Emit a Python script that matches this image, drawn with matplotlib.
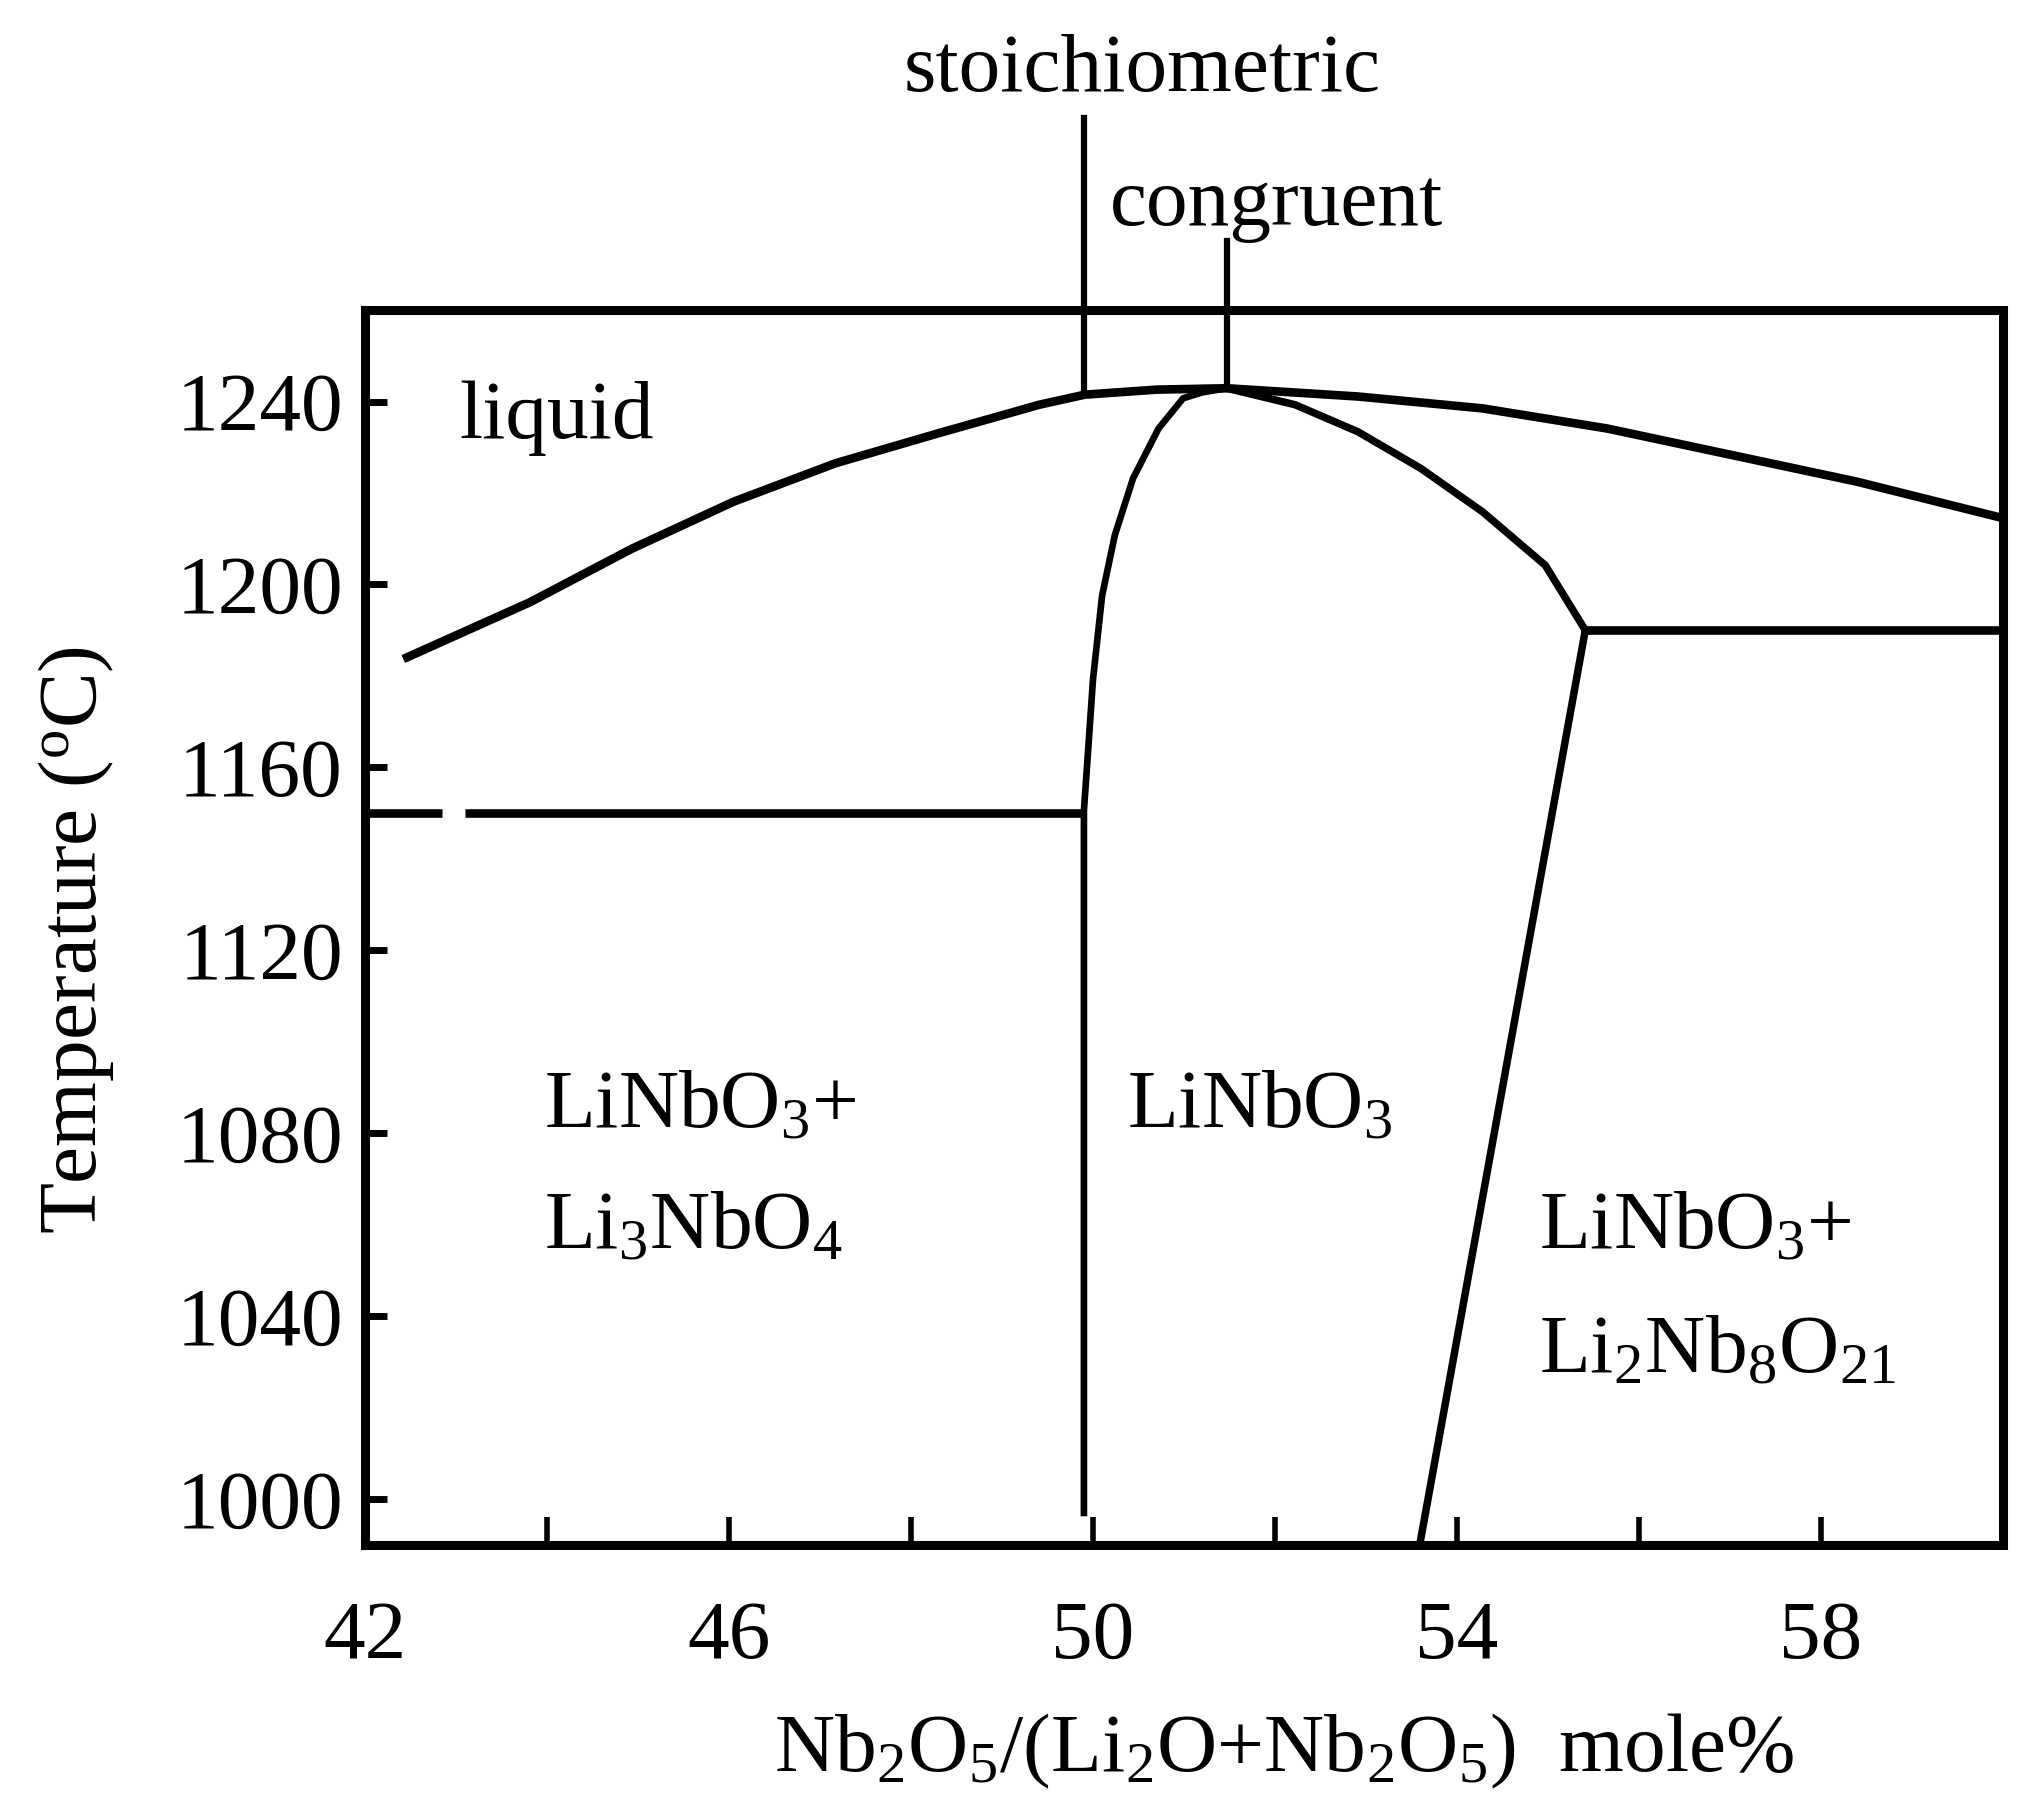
import matplotlib
matplotlib.use("Agg")
import matplotlib.pyplot as plt

plt.rcParams['font.family'] = ['Liberation Serif', 'DejaVu Serif']
plt.rcParams['mathtext.fontset'] = 'custom'
plt.rcParams['mathtext.rm'] = 'Liberation Serif'
plt.rcParams['mathtext.it'] = 'Liberation Serif:italic'

# phase boundaries: x = Nb2O5 mole%, y = temperature (C)
liq_x = [42.42, 43.81, 44.93, 46.05, 47.17, 48.29, 49.41, 49.91, 50.7, 51.47,
         52.91, 54.28, 55.65, 57.02, 58.39, 60.0]
liq_y = [1183.7, 1196.1, 1207.8, 1218.1, 1226.5, 1233.0, 1239.3, 1241.5, 1242.6, 1242.9,
         1241.1, 1238.5, 1234.1, 1228.3, 1222.5, 1214.5]

sol_left_x = [51.47, 51.2, 50.99, 50.72, 50.44, 50.24, 50.1, 50.0, 49.94, 49.9, 49.9]
sol_left_y = [1242.9, 1242.0, 1240.7, 1234.1, 1223.2, 1210.8, 1197.6, 1179.3,
              1162.0, 1150.6, 997.0]

sol_right_x = [51.47, 52.22, 52.91, 53.6, 54.28, 54.97, 55.41]
sol_right_y = [1242.9, 1239.3, 1233.4, 1225.4, 1215.9, 1204.2, 1190.0]

solvus_x = [55.41, 53.59]
solvus_y = [1190.0, 990.0]

eut_left_x = [[42.0, 42.85], [43.1, 49.9]]
eut_left_y = 1150.0
eut_right_x = [55.41, 60.0]
eut_right_y = 1190.0

stoich_x, stoich_top = 49.9, 1302.0
congr_x, congr_top = 51.47, 1275.0

fig = plt.figure(figsize=(20.43, 18.11), dpi=100)
ax = fig.add_axes([0.1787, 0.1469, 0.8017, 0.6819])

lw = 6.2
ax.plot(liq_x, liq_y, color='black', lw=lw, solid_capstyle='butt', solid_joinstyle='round')
ax.plot(sol_left_x, sol_left_y, color='black', lw=4.8, solid_joinstyle='round')
ax.plot(sol_right_x, sol_right_y, color='black', lw=5.4, solid_joinstyle='round')
ax.plot(solvus_x, solvus_y, color='black', lw=5.4)
for seg in eut_left_x:
    ax.plot(seg, [eut_left_y, eut_left_y], color='black', lw=lw, solid_capstyle='butt')
ax.plot(eut_right_x, [eut_right_y, eut_right_y], color='black', lw=lw)

ax.plot([stoich_x, stoich_x], [1241.5, stoich_top], color='black', lw=4.5, clip_on=False)
ax.plot([congr_x, congr_x], [1242.9, congr_top], color='black', lw=4.5, clip_on=False)

fs = 60
ax.text(50.54, 1308, 'stoichiometric', fontsize=fs, ha='center', va='baseline')
ax.text(50.19, 1278.6, 'congruent', fontsize=fs, ha='left', va='baseline')
ax.text(43.04, 1232, 'liquid', fontsize=fs, ha='left', va='baseline')
ax.text(43.97, 1081.4, 'LiNbO$_3$+', fontsize=fs, ha='left', va='baseline')
ax.text(43.97, 1054.9, 'Li$_3$NbO$_4$', fontsize=fs, ha='left', va='baseline')
ax.text(50.37, 1081.4, 'LiNbO$_3$', fontsize=fs, ha='left', va='baseline')
ax.text(54.9, 1054.9, 'LiNbO$_3$+', fontsize=fs, ha='left', va='baseline')
ax.text(54.9, 1027.7, 'Li$_2$Nb$_8$O$_{21}$', fontsize=fs, ha='left', va='baseline')

ax.set_xlim(42, 60)
ax.set_ylim(990, 1260)
ax.set_xticks([42, 46, 50, 54, 58])
ax.set_xticks([44, 48, 52, 56], minor=True)
ax.set_yticks([1000, 1040, 1080, 1120, 1160, 1200, 1240])
ax.tick_params(axis='x', which='both', direction='in', length=20, width=4,
               labelsize=fs, pad=40)
ax.tick_params(axis='y', which='both', direction='in', length=16, width=5,
               labelsize=fs, pad=16)
for sp in ax.spines.values():
    sp.set_linewidth(6.5)

ax.set_xlabel('Nb$_2$O$_5$/(Li$_2$O+Nb$_2$O$_5$)  mole%', fontsize=fs)
ax.xaxis.set_label_coords(0.561, -0.135)
ax.set_ylabel('Temperature ($^{\\rm o}$C)', fontsize=fs)
ax.yaxis.set_label_coords(-0.152, 0.49)

fig.savefig('out.png', dpi=100)
